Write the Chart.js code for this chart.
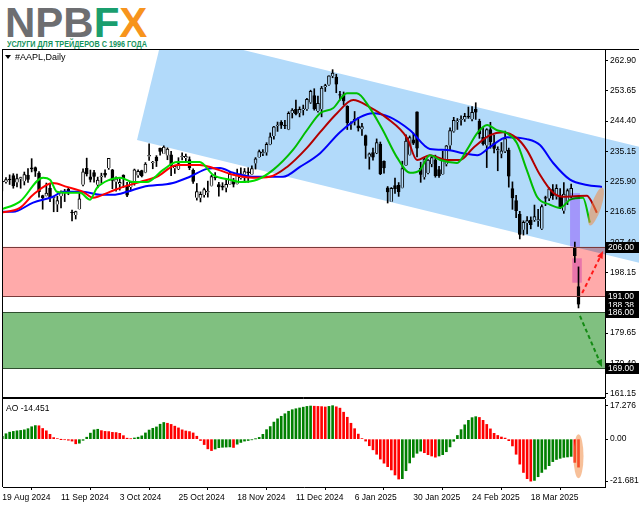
<!DOCTYPE html>
<html>
<head>
<meta charset="utf-8">
<script src="https://cdn.jsdelivr.net/npm/chart.js@4.4.1/dist/chart.umd.min.js"></script>
<style>
  html, body { margin: 0; padding: 0; background: #fff; }
  #wrap { position: relative; width: 639px; height: 508px; overflow: hidden; font-family: "Liberation Sans", Arial, sans-serif; }
  #priceChart { position: absolute; left: 0; top: 49px; }
  #aoChart { position: absolute; left: 0; top: 398px; }
  .logo { position: absolute; left: 5px; top: 2px; font: bold 42px/42px "Liberation Sans", Arial, sans-serif; white-space: nowrap; }
  .sub { position: absolute; left: 7px; top: 39px; font: bold 9px/10px "Liberation Sans", Arial, sans-serif; color: #14935c; white-space: nowrap; display: inline-block; transform-origin: 0 0; }
  .sym { position: absolute; left: 15px; top: 52px; font: 9px/10px "Liberation Sans", Arial, sans-serif; color: #000; }
  .tri { position: absolute; left: 5px; top: 55px; width: 0; height: 0; border-left: 3px solid transparent; border-right: 3px solid transparent; border-top: 4px solid #000; }
  .ao { position: absolute; left: 6px; top: 403px; font: 8.5px/10px "Liberation Sans", Arial, sans-serif; color: #000; }
</style>
</head>
<body>
<div id="wrap">
  <canvas id="priceChart" width="639" height="349"></canvas>
  <canvas id="aoChart" width="639" height="110"></canvas>
  <div class="logo"><span style="color:#6d6e71">NPB</span><span style="color:#1a9e6e">F</span><span style="color:#f7941d">X</span></div>
  <div class="sub" id="sub">УСЛУГИ ДЛЯ ТРЕЙДЕРОВ С 1996 ГОДА</div>
  <div class="tri"></div>
  <div class="sym">#AAPL,Daily</div>
  <div class="ao">AO -14.451</div>
</div>
<script>
// AAPL daily, 19 Aug 2024 .. 4 Apr 2025 (bar index 0..157)
const opens = [225.72,225.77,226.52,227.79,225.66,226.76,226.00,227.92,230.10,230.19,
  228.55,221.66,221.63,223.95,220.82,218.92,221.46,222.50,223.58,216.54,
  215.75,217.55,224.99,229.97,227.34,228.65,224.93,227.30,228.46,230.04,
  229.52,225.89,225.14,227.90,224.50,224.30,225.23,227.78,229.30,228.70,
  233.61,231.60,233.43,236.18,234.45,233.89,234.08,229.98,229.74,233.32,
  233.10,232.61,229.34,220.97,220.99,221.80,222.61,224.63,227.17,225.00,
  224.55,224.01,225.02,226.40,225.25,226.98,228.06,228.88,228.06,231.46,
  233.33,234.47,234.81,237.27,239.81,242.87,243.99,242.91,241.83,246.89,
  247.96,246.89,247.82,247.99,250.08,252.16,247.50,248.04,254.77,255.49,
  258.19,257.83,252.23,252.44,248.93,243.36,244.31,242.98,241.92,240.01,
  233.53,234.75,234.64,237.35,232.12,224.00,219.79,224.74,224.78,224.02,
  230.85,234.12,238.67,247.19,229.99,227.25,228.53,231.29,232.60,229.57,
  228.20,231.20,236.91,241.25,244.15,244.66,244.94,245.95,244.93,248.00,
  244.33,239.41,236.95,241.79,237.71,235.42,234.44,235.11,235.54,223.81,
  220.14,215.95,211.25,213.31,214.16,214.22,213.99,211.56,221.00,220.77,
  223.51,221.39,221.67,217.01,219.81,221.32,205.54,193.89];
const highs = [225.99,227.17,227.98,228.34,228.22,227.28,228.85,229.86,232.92,230.40,
  229.00,221.78,225.48,225.24,221.27,221.48,223.09,223.55,224.04,217.22,
  216.90,222.71,229.82,233.09,229.45,229.35,227.29,228.50,229.52,233.00,
  229.65,227.37,226.81,228.00,225.69,225.98,229.75,229.50,229.41,231.73,
  237.49,232.12,233.85,236.18,236.85,236.22,235.14,230.82,233.22,234.73,
  234.33,233.47,229.83,225.35,222.79,223.95,226.07,227.88,228.66,225.70,
  225.59,226.65,228.87,226.92,229.74,230.16,229.93,230.16,230.72,233.25,
  235.57,235.69,237.81,240.79,242.76,244.11,244.54,244.63,247.24,248.21,
  250.80,248.74,249.29,251.38,253.83,254.28,252.00,255.00,255.65,258.21,
  260.10,258.70,253.50,253.28,249.10,244.18,247.33,245.55,243.71,240.16,
  234.67,236.12,238.96,238.01,232.29,224.42,224.12,227.03,225.63,232.15,
  240.19,239.86,240.79,247.19,231.83,233.13,232.67,233.80,234.00,230.59,
  235.23,236.96,242.34,245.55,245.18,246.01,246.78,248.69,248.86,250.00,
  244.98,242.46,242.09,244.03,240.07,236.55,237.86,241.37,236.16,225.84,
  221.75,216.84,213.95,215.22,215.15,218.76,217.49,218.84,221.48,224.10,
  225.02,224.99,223.81,225.62,223.68,225.19,207.49,199.88];
const lows = [223.04,225.45,225.05,223.90,224.33,223.89,224.89,225.68,228.88,227.48,
  221.17,217.48,221.52,219.77,216.71,216.73,217.89,219.82,221.91,213.92,
  214.50,217.54,224.63,227.62,225.81,225.73,224.02,225.41,227.30,229.65,
  223.74,223.02,223.32,224.13,221.33,223.25,224.83,227.17,227.34,228.60,
  232.37,229.84,230.52,234.01,234.45,232.60,227.76,228.41,229.57,232.55,
  232.32,229.55,225.37,220.27,219.71,221.14,221.19,224.57,226.41,221.50,
  223.36,222.76,225.00,224.27,225.17,226.66,225.89,225.71,228.06,229.74,
  233.33,233.81,233.97,237.16,238.90,241.25,242.13,242.08,241.75,245.34,
  246.26,245.68,246.24,247.65,249.78,247.74,247.09,245.69,253.45,255.29,
  257.63,253.06,250.75,249.43,241.82,241.89,243.20,241.35,240.05,233.00,
  229.72,232.47,234.43,228.03,228.48,219.38,219.79,222.30,221.41,223.98,
  230.81,234.01,237.21,233.44,225.70,226.65,228.27,230.43,227.26,227.20,
  228.13,230.68,235.57,240.99,241.84,243.16,244.29,245.22,244.42,244.91,
  239.13,237.06,230.20,236.11,234.68,229.23,233.16,234.76,224.22,217.45,
  214.91,208.42,209.58,209.97,211.49,213.75,212.22,211.28,218.58,220.08,
  220.47,220.56,217.68,216.23,218.90,221.02,201.25,187.34];
const closes = [225.89,226.51,226.40,224.53,226.84,227.18,228.03,226.49,229.79,229.00,
  222.77,220.85,222.38,220.82,220.91,220.11,222.66,222.77,222.50,216.32,
  216.79,220.69,228.87,228.20,226.47,227.37,226.37,227.52,227.79,233.00,
  226.21,226.78,225.67,226.80,221.69,225.77,229.54,229.04,227.55,231.30,
  233.85,231.78,232.15,235.00,236.48,235.86,230.76,230.57,231.41,233.40,
  233.67,230.10,225.91,222.91,222.01,223.45,222.72,227.48,226.96,224.23,
  224.23,225.12,228.22,225.00,228.02,228.28,229.00,228.52,229.87,232.87,
  235.06,234.93,237.33,239.59,242.65,243.01,243.04,242.84,246.75,247.77,
  246.49,247.96,248.13,251.04,253.48,248.05,249.79,254.49,255.27,258.20,
  259.02,255.59,252.20,250.42,243.85,243.36,245.00,242.21,242.70,236.85,
  234.40,233.28,237.87,228.26,229.98,222.64,223.83,223.66,222.78,229.86,
  238.26,239.36,237.59,236.00,228.01,232.80,232.47,233.22,227.63,227.65,
  232.62,236.87,241.53,244.60,244.47,244.87,245.83,245.55,247.10,247.04,
  240.36,237.30,241.84,238.03,235.93,235.74,235.33,239.07,227.48,220.84,
  216.98,209.68,213.49,214.00,212.69,215.24,214.10,218.27,220.73,223.75,
  221.53,223.85,217.90,222.13,223.19,223.89,203.19,188.38];

// Alligator lines: [bar index, price]
const lips = [[-0.6,217.3],[4.8,219.8],[11.1,227.1],[13,226.5],[14.9,222.8],[17.6,222.5],[21.2,222.5],[23.9,220.4],
  [25.8,224.0],[29.3,226.5],[32.1,227.1],[35.6,225.8],[39.4,225.8],[43.8,229.5],[47.6,231.9],[53.8,231.9],
  [57.4,228.0],[62,226.5],[64.8,225.8],[69.4,226.5],[73.8,229.5],[79.2,235.6],[83,241.6],[86.6,246.8],
  [90.1,248.3],[93.9,252.9],[96.6,252.9],[100.2,248.3],[103.7,241.6],[107.5,233.4],[111.1,228.6],[113.8,229.5],
  [116.5,234.0],[119.3,232.5],[123.9,231.6],[126.6,235.6],[129.4,240.7],[132.1,243.2],[134.8,241.6],[137.5,240.7],
  [140.2,237.7],[142.9,229.5],[145.7,221.3],[149.2,218.9],[152,217.9],[154.7,220.4],[158.2,221.0],[160.1,213.4]];
const teeth = [[-0.6,216.4],[4.8,217.9],[8.4,221.9],[13.8,225.5],[17.6,224.3],[22,222.8],[24.7,221.0],[29.3,222.8],
  [32.9,224.3],[37.5,225.8],[42.1,227.4],[47.6,231.0],[53.8,231.0],[57.4,230.1],[62.9,228.0],[68.3,227.1],
  [72.9,227.4],[77.6,230.4],[83,236.2],[86.6,241.0],[91.2,246.8],[95.6,250.8],[100.2,248.6],[104.8,245.3],
  [110.3,239.2],[113,232.5],[116.5,234.0],[121.2,232.5],[124.7,232.5],[128.3,236.2],[132.9,240.1],[136.4,241.0],
  [140.2,239.2],[142.9,235.6],[146.5,228.0],[150.1,222.5],[152.8,221.3],[159.3,221.6],[160.7,219.5],[162,216.4]];
const jaw = [[-0.6,216.7],[2.9,216.7],[8.4,219.5],[13.8,221.3],[16.5,222.8],[22,222.8],[26.6,221.9],[30.2,221.9],
  [34,222.8],[38.3,224.3],[46.5,225.5],[51.1,227.4],[55.8,229.8],[59.3,230.1],[62.9,228.6],[68.3,227.4],
  [76.5,227.4],[81.1,230.4],[86.6,234.6],[92,241.0],[97.5,245.6],[101,246.8],[105.6,245.6],[111.1,241.6],
  [116.5,235.9],[121.2,235.6],[125.5,234.6],[129.4,234.0],[132.9,236.5],[137.5,239.5],[142.9,238.9],[146.5,237.1],
  [150.1,231.6],[154.7,226.5],[159.3,224.9],[163.4,224.3]];

// Awesome Oscillator, one value per bar
const ao = [1.5,2.8,3.6,4.0,4.3,4.5,4.8,5.4,6.4,7.0,
  6.9,5.5,4.3,2.5,0.8,0.25,-0.05,-0.3,-0.55,-1.0,
  -2.4,-2.1,-0.6,1.0,3.1,4.8,5.1,4.4,4.0,3.9,
  3.5,3.4,3.0,1.8,0.5,0.2,0.6,1.0,1.7,3.2,
  4.7,5.6,6.3,7.7,8.6,8.2,7.6,6.7,5.8,4.8,
  4.2,3.9,3.2,1.5,-0.7,-2.8,-5.0,-5.9,-5.1,-4.4,
  -4.2,-4.1,-4.0,-4.3,-2.6,-1.7,-1.0,-0.7,-0.35,0.1,
  0.9,2.5,4.9,6.5,8.8,10.5,11.8,13.1,14.4,15.2,
  15.7,16.1,16.5,16.9,17.1,17.0,16.9,16.8,16.6,16.9,
  17.276,16.7,16.0,13.9,11.3,8.2,5.4,2.6,0.3,-1.0,
  -3.4,-5.5,-7.8,-10.3,-12.4,-14.2,-15.9,-18.5,-20.6,-20.4,
  -16.3,-12.3,-9.4,-7.3,-6.2,-7.0,-8.0,-8.7,-9.3,-8.7,
  -8.0,-6.5,-4.0,-1.1,1.9,4.9,7.4,9.7,11.1,11.6,
  11.2,9.7,7.6,5.3,3.0,1.9,1.1,0.55,-0.8,-3.5,
  -7.8,-12.9,-17.2,-20.4,-21.681,-21.3,-19.4,-17.2,-15.5,-13.7,
  -11.6,-10.5,-9.9,-9.4,-9.2,-8.9,-12.0,-14.451];

const priceTicks = [262.90,253.65,244.40,235.15,225.90,216.65,207.40,198.15,188.90,179.65,170.40,161.15];
const aoTicks = [17.276, 0, -21.681];
const aoTickText = ["17.276", "0.00", "-21.681"];
const dateTickIdx = [0,16,32,48,64,80,96,112,128,144];
const dateTickText = ["19 Aug 2024","11 Sep 2024","3 Oct 2024","25 Oct 2024","18 Nov 2024",
  "11 Dec 2024","6 Jan 2025","30 Jan 2025","24 Feb 2025","18 Mar 2025"];

// drawn objects, in bar index / price units
const chanTop = [[75.67, 263.36], [163.7, 239.21]];
const chanBase = [36.7, 238.63];
const redZone = [206, 191];
const greenZone = [186, 169];
const boxA = [154.7, 157.4, 222.4, 206.0];
const boxB = [155.3, 157.9, 202.5, 195.05];
const arrowUp = [[158.0, 191.9], [163.7, 204.7]];
const arrowDown = [[157.4, 184.9], [163.4, 169.3]];
const markPrice = [161.8, 218.3];
const markAO = [157, -8.8];
const tags = [[188.38, "188.38"], [191, "191.00"], [186, "186.00"], [206, "206.00"], [169, "169.00"]];

const xMin = 0.19, xMax = 164.22;
const FONT = "'Liberation Sans', Arial, sans-serif";

// logo subtitle squeezed to the logo width
const sub = document.getElementById("sub");
sub.style.transform = "scaleX(" + (140 / sub.getBoundingClientRect().width) + ")";

function arrow(ctx, x0, y0, x1, y1, color) {
  const ang = Math.atan2(y1 - y0, x1 - x0);
  const head = 8;
  ctx.save();
  ctx.strokeStyle = color;
  ctx.fillStyle = color;
  ctx.lineWidth = 2;
  ctx.setLineDash([4, 3]);
  ctx.beginPath();
  ctx.moveTo(x0, y0);
  ctx.lineTo(x1 - Math.cos(ang) * head * 0.7, y1 - Math.sin(ang) * head * 0.7);
  ctx.stroke();
  ctx.setLineDash([]);
  ctx.beginPath();
  ctx.moveTo(x1, y1);
  ctx.lineTo(x1 - head * Math.cos(ang - 0.4), y1 - head * Math.sin(ang - 0.4));
  ctx.lineTo(x1 - head * Math.cos(ang + 0.4), y1 - head * Math.sin(ang + 0.4));
  ctx.closePath();
  ctx.fill();
  ctx.restore();
}

// no extra room for half labels at the ends of the axes
function fitY(s) { s.width = 34; s.paddingTop = 0; s.paddingBottom = 0; }
function fitX(s) { s.height = 21; s.paddingLeft = 0; s.paddingRight = 0; }

const mainOverlay = {
  id: "mainOverlay",
  afterDatasetsDraw(chart) {
    const { ctx, chartArea: a, scales: { x, y } } = chart;
    const X = v => x.getPixelForValue(v);
    const Y = v => y.getPixelForValue(v);
    ctx.save();
    ctx.beginPath();
    ctx.rect(a.left, a.top, chart.width - a.left, a.bottom - a.top);
    ctx.clip();
    ctx.globalCompositeOperation = "multiply";

    // channel: two parallel lines, square end on the left
    const p1 = [X(chanTop[0][0]), Y(chanTop[0][1])];
    const p2 = [X(chanTop[1][0]), Y(chanTop[1][1])];
    const q = [X(chanBase[0]), Y(chanBase[1])];
    let dx = p2[0] - p1[0], dy = p2[1] - p1[1];
    const len = Math.hypot(dx, dy);
    dx /= len; dy /= len;
    const t = (q[0] - p1[0]) * dx + (q[1] - p1[1]) * dy;
    const ul = [p1[0] + dx * t, p1[1] + dy * t];
    ctx.fillStyle = "rgb(178,218,250)";
    ctx.beginPath();
    ctx.moveTo(q[0], q[1]);
    ctx.lineTo(ul[0], ul[1]);
    ctx.lineTo(ul[0] + dx * 2000, ul[1] + dy * 2000);
    ctx.lineTo(q[0] + dx * 2000, q[1] + dy * 2000);
    ctx.closePath();
    ctx.fill();

    // zones
    ctx.fillStyle = "rgb(255,170,170)";
    ctx.fillRect(a.left, Y(redZone[0]), a.right - a.left, Y(redZone[1]) - Y(redZone[0]));
    ctx.fillStyle = "rgb(128,192,128)";
    ctx.fillRect(a.left, Y(greenZone[0]), a.right - a.left, Y(greenZone[1]) - Y(greenZone[0]));

    // highlight boxes
    ctx.fillStyle = "rgb(232,176,255)";
    [boxA, boxB].forEach(b => {
      ctx.fillRect(X(b[0]), Y(b[2]), X(b[1]) - X(b[0]), Y(b[3]) - Y(b[2]));
    });
    ctx.globalCompositeOperation = "source-over";

    // zone borders
    ctx.lineWidth = 1;
    ctx.strokeStyle = "#7a3a3a";
    redZone.forEach(p => {
      const yy = Math.round(Y(p)) + 0.5;
      ctx.beginPath(); ctx.moveTo(a.left, yy); ctx.lineTo(a.right, yy); ctx.stroke();
    });
    ctx.strokeStyle = "#2f4f2f";
    greenZone.forEach(p => {
      const yy = Math.round(Y(p)) + 0.5;
      ctx.beginPath(); ctx.moveTo(a.left, yy); ctx.lineTo(a.right, yy); ctx.stroke();
    });

    // ellipse marker
    ctx.fillStyle = "rgba(240,140,70,0.55)";
    ctx.beginPath();
    ctx.ellipse(X(markPrice[0]), Y(markPrice[1]), 5, 20, 0.32, 0, Math.PI * 2);
    ctx.fill();

    arrow(ctx, X(arrowUp[0][0]), Y(arrowUp[0][1]), X(arrowUp[1][0]), Y(arrowUp[1][1]), "#ff1a1a");
    arrow(ctx, X(arrowDown[0][0]), Y(arrowDown[0][1]), X(arrowDown[1][0]), Y(arrowDown[1][1]), "#138a13");
    ctx.restore();
  },
  afterDraw(chart) {
    const { ctx, chartArea: a, scales: { y } } = chart;
    ctx.save();
    ctx.strokeStyle = "#000";
    ctx.lineWidth = 1;
    ctx.beginPath();
    ctx.moveTo(a.left - 0.5, a.top + 0.5); ctx.lineTo(chart.width, a.top + 0.5);
    ctx.moveTo(a.left - 0.5, a.top); ctx.lineTo(a.left - 0.5, a.bottom + 1);
    ctx.moveTo(a.left - 0.5, a.bottom + 0.5); ctx.lineTo(a.right, a.bottom + 0.5);
    ctx.stroke();
    ctx.font = "8.5px " + FONT;
    ctx.textBaseline = "middle";
    tags.forEach(([p, txt]) => {
      const yc = Math.round(y.getPixelForValue(p));
      ctx.fillStyle = "#000";
      ctx.fillRect(a.right, yc - 5, chart.width - a.right, 11);
      ctx.fillStyle = "#fff";
      ctx.fillText(txt, a.right + 3, yc + 0.5);
    });
    ctx.restore();
  }
};

const aoOverlay = {
  id: "aoOverlay",
  afterDatasetsDraw(chart) {
    const { ctx, chartArea: a, scales: { x, y } } = chart;
    ctx.save();
    ctx.fillStyle = "rgba(240,140,70,0.55)";
    ctx.beginPath();
    ctx.ellipse(x.getPixelForValue(markAO[0]), y.getPixelForValue(markAO[1]), 5, 22, 0, 0, Math.PI * 2);
    ctx.fill();
    ctx.strokeStyle = "#000";
    ctx.lineWidth = 1;
    ctx.beginPath();
    ctx.moveTo(a.left - 0.5, a.top - 0.5); ctx.lineTo(a.right, a.top - 0.5);
    ctx.moveTo(a.left - 0.5, a.top - 1); ctx.lineTo(a.left - 0.5, a.bottom);
    ctx.stroke();
    ctx.restore();
  }
};

const tickFont = { family: FONT, size: 8.5 };

new Chart(document.getElementById("priceChart"), {
  type: "bar",
  data: {
    datasets: [
      { type: "line", data: lips.map(p => ({ x: p[0], y: p[1] })), borderColor: "#00dd00", borderWidth: 2,
        pointRadius: 0, cubicInterpolationMode: "monotone", order: 1 },
      { type: "line", data: teeth.map(p => ({ x: p[0], y: p[1] })), borderColor: "#ff0000", borderWidth: 2,
        pointRadius: 0, cubicInterpolationMode: "monotone", order: 1 },
      { type: "line", data: jaw.map(p => ({ x: p[0], y: p[1] })), borderColor: "#0000ff", borderWidth: 2,
        pointRadius: 0, cubicInterpolationMode: "monotone", order: 1 },
      { data: closes.map((c, i) => ({ x: i, y: [opens[i], c] })),
        backgroundColor: ctx => closes[ctx.dataIndex] >= opens[ctx.dataIndex] ? "#ffffff" : "#000000",
        borderColor: "#000", borderWidth: 1, barThickness: 3, minBarLength: 1, grouped: false, order: 2 },
      { data: closes.map((c, i) => ({ x: i, y: [lows[i], highs[i]] })),
        backgroundColor: "#000", barThickness: 1, grouped: false, order: 3 }
    ]
  },
  options: {
    responsive: false,
    animation: false,
    events: [],
    layout: { padding: { left: 3, right: 0, top: 0, bottom: 1 } },
    plugins: { legend: { display: false }, tooltip: { enabled: false } },
    scales: {
      x: { type: "linear", min: xMin, max: xMax, offset: false, display: false },
      y: {
        position: "right", min: 160.15, max: 266.41,
        afterBuildTicks: s => { s.ticks = priceTicks.map(v => ({ value: v })); },
        afterFit: fitY,
        grid: { drawOnChartArea: false, drawTicks: true, tickLength: 3, color: "#000" },
        border: { display: true, color: "#000" },
        ticks: { padding: 2, color: "#000", font: tickFont, autoSkip: false, callback: v => v.toFixed(2) }
      }
    }
  },
  plugins: [mainOverlay]
});

new Chart(document.getElementById("aoChart"), {
  type: "bar",
  data: {
    datasets: [{
      data: ao.map((v, i) => ({ x: i, y: v })),
      backgroundColor: ctx => (ctx.dataIndex === 0 || ao[ctx.dataIndex] >= ao[ctx.dataIndex - 1]) ? "#008000" : "#ff0000",
      barThickness: 2
    }]
  },
  options: {
    responsive: false,
    animation: false,
    events: [],
    layout: { padding: { left: 3, right: 0, top: 1, bottom: 0 } },
    plugins: { legend: { display: false }, tooltip: { enabled: false } },
    scales: {
      x: {
        type: "linear", min: xMin, max: xMax, offset: false,
        afterBuildTicks: s => { s.ticks = dateTickIdx.map(v => ({ value: v })); },
        afterFit: fitX,
        grid: { drawOnChartArea: false, drawTicks: true, tickLength: 3, color: "#000" },
        border: { display: true, color: "#000" },
        ticks: { align: "start", padding: 3, maxRotation: 0, autoSkip: false, color: "#000", font: tickFont,
          callback: (v, i) => dateTickText[i] }
      },
      y: {
        position: "right", min: -24.7, max: 20.72,
        afterBuildTicks: s => { s.ticks = aoTicks.map(v => ({ value: v })); },
        afterFit: fitY,
        grid: { drawOnChartArea: false, drawTicks: true, tickLength: 3, color: "#000" },
        border: { display: true, color: "#000" },
        ticks: { padding: 2, color: "#000", font: tickFont, autoSkip: false, callback: (v, i) => aoTickText[i] }
      }
    }
  },
  plugins: [aoOverlay]
});
</script>
</body>
</html>
